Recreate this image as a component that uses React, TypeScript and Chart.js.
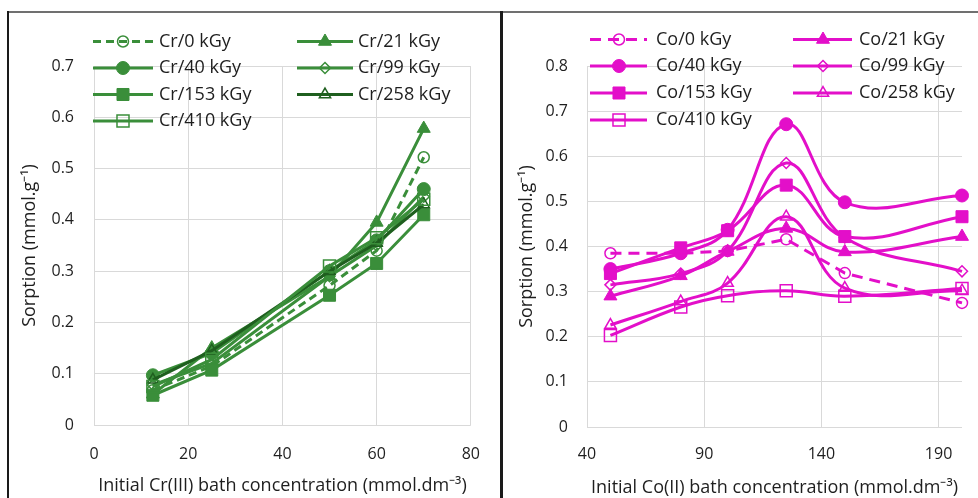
import React, { useEffect, useRef } from 'react';
import { Chart, registerables } from 'chart.js';

Chart.register(...registerables);

const FONT = "'Open Sans', sans-serif";
const TEXT = '#1e1e1e';
const GRID = '#d9d9d9';
const GREEN = '#3a8e3a';
const DARK_GREEN = '#1f5f1f';
const MAGENTA = '#e30fc9';

// ---- Cr(III) panel data ----
const crConc = [12.5, 25, 50, 60, 70];
const crNames = ['Cr/0 kGy', 'Cr/21 kGy', 'Cr/40 kGy', 'Cr/99 kGy', 'Cr/153 kGy', 'Cr/258 kGy', 'Cr/410 kGy'];
const cr0 = [0.068, 0.115, 0.272, 0.34, 0.522];
const cr21 = [0.06, 0.15, 0.29, 0.395, 0.578];
const cr40 = [0.097, 0.14, 0.3, 0.36, 0.46];
const cr99 = [0.078, 0.12, 0.29, 0.35, 0.445];
const cr153 = [0.058, 0.107, 0.253, 0.315, 0.41];
const cr258 = [0.088, 0.145, 0.3, 0.355, 0.43];
const cr410 = [0.075, 0.128, 0.31, 0.365, 0.44];
const crXTicks = [0, 20, 40, 60, 80];
const crYTicks = [0, 0.1, 0.2, 0.3, 0.4, 0.5, 0.6, 0.7];
const crXTitle = 'Initial Cr(III) bath concentration (mmol.dm\u207B\u00B3)';

// ---- Co(II) panel data ----
const coConc = [50, 80, 100, 125, 150, 200];
const coNames = ['Co/0 kGy', 'Co/21 kGy', 'Co/40 kGy', 'Co/99 kGy', 'Co/153 kGy', 'Co/258 kGy', 'Co/410 kGy'];
const co0 = [0.385, 0.385, 0.39, 0.416, 0.341, 0.275];
const co21 = [0.29, 0.335, 0.389, 0.44, 0.388, 0.422];
const co40 = [0.35, 0.385, 0.437, 0.671, 0.498, 0.513];
const co99 = [0.315, 0.34, 0.39, 0.585, 0.42, 0.345];
const co153 = [0.34, 0.397, 0.435, 0.536, 0.422, 0.466];
const co258 = [0.226, 0.278, 0.319, 0.466, 0.308, 0.302];
const co410 = [0.203, 0.266, 0.291, 0.302, 0.29, 0.307];
const coXTicks = [40, 90, 140, 190];
const coYTicks = [0, 0.1, 0.2, 0.3, 0.4, 0.5, 0.6, 0.7, 0.8];
const coXTitle = 'Initial Co(II) bath concentration (mmol.dm\u207B\u00B3)';

const yTitle = 'Sorption (mmol.g\u207B\u00B9)';

// marker styles per series (same order as names)
type Mk = { style: string; filled: boolean; r: number };
const markers: Mk[] = [
  { style: 'circle', filled: false, r: 5.5 },
  { style: 'triangle', filled: true, r: 7.5 },
  { style: 'circle', filled: true, r: 6.5 },
  { style: 'rectRot', filled: false, r: 5.5 },
  { style: 'rect', filled: true, r: 8.5 },
  { style: 'triangle', filled: false, r: 6.5 },
  { style: 'rect', filled: false, r: 8.5 },
];

function drawMarker(ctx: CanvasRenderingContext2D, mk: Mk, x: number, y: number, color: string) {
  const r = mk.r;
  ctx.save();
  ctx.setLineDash([]);
  ctx.beginPath();
  if (mk.style === 'circle') {
    ctx.arc(x, y, r, 0, Math.PI * 2);
  } else if (mk.style === 'rect') {
    const s = r * Math.SQRT1_2;
    ctx.rect(x - s, y - s, 2 * s, 2 * s);
  } else if (mk.style === 'rectRot') {
    ctx.moveTo(x, y - r);
    ctx.lineTo(x + r, y);
    ctx.lineTo(x, y + r);
    ctx.lineTo(x - r, y);
    ctx.closePath();
  } else if (mk.style === 'triangle') {
    const a = (2 * Math.PI) / 3;
    ctx.moveTo(x, y - r);
    ctx.lineTo(x + Math.sin(a) * r, y - Math.cos(a) * r);
    ctx.lineTo(x - Math.sin(a) * r, y - Math.cos(a) * r);
    ctx.closePath();
  }
  if (mk.filled) {
    ctx.fillStyle = color;
    ctx.fill();
  }
  ctx.strokeStyle = color;
  ctx.lineWidth = mk.filled ? 1 : 1.5;
  ctx.stroke();
  ctx.restore();
}

const overlayLegend = {
  id: 'overlayLegend',
  afterDraw(chart: any, _args: any, opts: any) {
    const ctx: CanvasRenderingContext2D = chart.ctx;
    const cols = opts.cols;
    const rows = opts.rows;
    chart.data.datasets.forEach((ds: any, i: number) => {
      const c = cols[i % 2];
      const y = rows[Math.floor(i / 2)];
      ctx.save();
      ctx.strokeStyle = ds.borderColor;
      ctx.lineWidth = ds.borderWidth;
      ctx.setLineDash(ds.borderDash || []);
      ctx.beginPath();
      ctx.moveTo(c.l1, y);
      ctx.lineTo(c.l2, y);
      ctx.stroke();
      ctx.restore();
      drawMarker(ctx, markers[i], c.m, y, ds.borderColor);
      ctx.save();
      ctx.fillStyle = TEXT;
      ctx.font = `18px ${FONT}`;
      ctx.textBaseline = 'middle';
      ctx.textAlign = 'left';
      ctx.fillText(ds.label, c.t, y);
      ctx.restore();
    });
  },
};

type Panel = {
  xs: number[];
  names: string[];
  series: number[][];
  colors: string[];
  dashes: number[][];
  tensions: number[];
  xMin: number;
  xMax: number;
  xTicks: number[];
  yTicks: number[];
  xTitle: string;
  width: number;
  padTop: number;
  padRight: number;
  yAxisW: number;
  xAxisH: number;
  yTickPad: number;
  xTickPad: number;
  yTitlePad: number;
  xTitlePad: number;
  legendCols: any[];
  legendRows: number[];
};

function makeChart(canvas: HTMLCanvasElement, p: Panel) {
  const n = p.series.length;
  const datasets = p.series.map((ys, i) => {
    const mk = markers[i];
    return {
      label: p.names[i],
      data: p.xs.map((x, j) => ({ x, y: ys[j] })),
      borderColor: p.colors[i],
      borderWidth: 3,
      borderDash: p.dashes[i],
      tension: p.tensions[i],
      fill: false,
      pointStyle: mk.style,
      pointRadius: mk.r,
      pointHoverRadius: mk.r,
      pointBackgroundColor: mk.filled ? p.colors[i] : 'rgba(0,0,0,0)',
      pointBorderColor: p.colors[i],
      pointBorderWidth: mk.filled ? 1 : 1.5,
      order: n - i,
      clip: false as any,
    };
  });
  return new Chart(canvas, {
    type: 'line',
    data: { datasets },
    plugins: [overlayLegend],
    options: {
      animation: false,
      responsive: false,
      maintainAspectRatio: false,
      events: [],
      layout: { padding: { left: 0, right: p.padRight, top: p.padTop, bottom: 0 } },
      plugins: {
        legend: { display: false },
        tooltip: { enabled: false },
        overlayLegend: { cols: p.legendCols, rows: p.legendRows },
      } as any,
      scales: {
        x: {
          type: 'linear',
          min: p.xMin,
          max: p.xMax,
          afterBuildTicks: (s: any) => {
            s.ticks = p.xTicks.map((v) => ({ value: v }));
          },
          afterFit: (s: any) => {
            s.height = p.xAxisH;
          },
          grid: { color: GRID, lineWidth: 1, drawTicks: false },
          border: { display: false },
          ticks: {
            padding: p.xTickPad,
            color: TEXT,
            font: { family: FONT, size: 16 },
            maxRotation: 0,
            autoSkip: false,
            callback: (v: any) => String(v),
          },
          title: {
            display: true,
            text: p.xTitle,
            color: TEXT,
            font: { family: FONT, size: 18, lineHeight: 1 },
            padding: { top: 0, bottom: p.xTitlePad },
          },
        },
        y: {
          type: 'linear',
          min: 0,
          max: p.yTicks[p.yTicks.length - 1],
          afterBuildTicks: (s: any) => {
            s.ticks = p.yTicks.map((v) => ({ value: v }));
          },
          afterFit: (s: any) => {
            s.width = p.yAxisW;
          },
          grid: { color: GRID, lineWidth: 1, drawTicks: false },
          border: { display: false },
          ticks: {
            padding: p.yTickPad,
            color: TEXT,
            font: { family: FONT, size: 16 },
            autoSkip: false,
            callback: (v: any) => (v === 0 ? '0' : Number(v).toFixed(1)),
          },
          title: {
            display: true,
            text: yTitle,
            color: TEXT,
            font: { family: FONT, size: 18 },
            padding: { top: p.yTitlePad, bottom: 0 },
          },
        },
      },
    } as any,
  });
}

const crPanel: Panel = {
  xs: crConc,
  names: crNames,
  series: [cr0, cr21, cr40, cr99, cr153, cr258, cr410],
  colors: [GREEN, GREEN, GREEN, GREEN, GREEN, DARK_GREEN, GREEN],
  dashes: [[8, 5], [], [], [], [], [], []],
  tensions: [0, 0, 0, 0, 0, 0, 0],
  xMin: 0,
  xMax: 80,
  xTicks: crXTicks,
  yTicks: crYTicks,
  xTitle: crXTitle,
  width: 500,
  padTop: 66,
  padRight: 25,
  yAxisW: 94,
  xAxisH: 73,
  yTickPad: 20,
  xTickPad: 20,
  yTitlePad: 19,
  xTitlePad: 3,
  legendCols: [
    { l1: 93, l2: 153, m: 123, t: 159 },
    { l1: 297, l2: 353, m: 325, t: 358 },
  ],
  legendRows: [41.5, 68, 94.5, 121],
};

const coPanel: Panel = {
  xs: coConc,
  names: coNames,
  series: [co0, co21, co40, co99, co153, co258, co410],
  colors: [MAGENTA, MAGENTA, MAGENTA, MAGENTA, MAGENTA, MAGENTA, MAGENTA],
  dashes: [[11, 7], [], [], [], [], [], []],
  tensions: [0, 0.4, 0.4, 0.4, 0.4, 0.4, 0.4],
  xMin: 40,
  xMax: 200,
  xTicks: coXTicks,
  yTicks: coYTicks,
  xTitle: coXTitle,
  width: 475,
  padTop: 66,
  padRight: 16,
  yAxisW: 84,
  xAxisH: 71,
  yTickPad: 19,
  xTickPad: 18,
  yTitlePad: 13,
  xTitlePad: 1.5,
  legendCols: [
    { l1: 87, l2: 144, m: 116, t: 153 },
    { l1: 290, l2: 349, m: 320, t: 356 },
  ],
  legendRows: [39.5, 66, 93, 120],
};

function ChartCanvas({ panel, left }: { panel: Panel; left: number }) {
  const ref = useRef<HTMLCanvasElement | null>(null);
  useEffect(() => {
    if (!ref.current) return;
    const chart = makeChart(ref.current, panel);
    return () => chart.destroy();
  }, [panel]);
  return (
    <canvas
      ref={ref}
      width={panel.width}
      height={498}
      style={{ position: 'absolute', left, top: 0, width: panel.width, height: 498 }}
    />
  );
}

export default function App() {
  return (
    <div
      style={{
        position: 'absolute',
        left: 0,
        top: 0,
        width: 978,
        height: 498,
        overflow: 'hidden',
        background: '#fff',
      }}
    >
      <ChartCanvas panel={crPanel} left={0} />
      <ChartCanvas panel={coPanel} left={503} />
      <div style={{ position: 'absolute', left: 8, top: 11, width: 970, height: 2, background: '#707070' }} />
      <div style={{ position: 'absolute', left: 7, top: 11, width: 2, height: 487, background: '#1a1a1a' }} />
      <div style={{ position: 'absolute', left: 500, top: 11, width: 3, height: 487, background: '#1a1a1a' }} />
    </div>
  );
}
